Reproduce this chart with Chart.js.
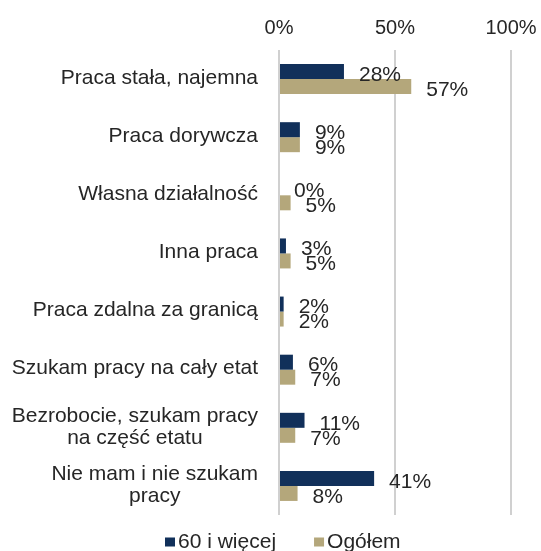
<!DOCTYPE html>
<html><head><meta charset="utf-8">
<script src="https://cdn.jsdelivr.net/npm/chart.js@4/dist/chart.umd.min.js"></script>
<style>html,body{margin:0;padding:0;background:#fff}canvas{display:block}</style>
</head><body>
<canvas id="c" width="541" height="551"></canvas>
<script>
const categories = [
  ["Praca stała, najemna"],
  ["Praca dorywcza"],
  ["Własna działalność"],
  ["Inna praca"],
  ["Praca zdalna za granicą"],
  ["Szukam pracy na cały etat"],
  ["Bezrobocie, szukam pracy", "na część etatu"],
  ["Nie mam i nie szukam", "pracy"]
];
const seriesNames = ["60 i więcej", "Ogółem"];
const values60 = [28, 9, 0, 3, 2, 6, 11, 41];
const valuesAll = [57, 9, 5, 5, 2, 7, 7, 8];
const xTicks = [0, 50, 100];

const NAVY = '#11305a';
const TAN = '#b4a77b';
const TEXT = '#262626';
const FONT = '"Liberation Sans", Arial, sans-serif';

const customText = {
  id: 'customText',
  afterDatasetsDraw(chart) {
    const ctx = chart.ctx;
    ctx.save();
    // data labels
    ctx.font = '21px ' + FONT;
    ctx.fillStyle = TEXT;
    ctx.textAlign = 'left';
    ctx.textBaseline = 'middle';
    chart.data.datasets.forEach((ds, di) => {
      const meta = chart.getDatasetMeta(di);
      meta.data.forEach((bar, i) => {
        ctx.fillText(ds.data[i] + '%', bar.x + 15, bar.y + 3.5);
      });
    });
    // category labels
    const yScale = chart.scales.y;
    const rightX = 258;
    categories.forEach((lines, i) => {
      const cy = yScale.getPixelForValue(i);
      let w = 0;
      lines.forEach(l => { w = Math.max(w, ctx.measureText(l).width); });
      const cx = rightX - w / 2;
      ctx.textAlign = 'center';
      lines.forEach((l, j) => {
        ctx.fillText(l, cx, cy - 1 + (j - (lines.length - 1) / 2) * 22);
      });
    });
    // legend
    let x = 165;
    const ly = 542;
    chart.data.datasets.forEach((ds, di) => {
      ctx.fillStyle = ds.backgroundColor;
      ctx.fillRect(x, ly - 4.5, 10, 9);
      ctx.fillStyle = TEXT;
      ctx.textAlign = 'left';
      ctx.fillText(ds.label, x + 13, ly);
      x += 13 + ctx.measureText(ds.label).width + 38;
    });
    ctx.restore();
  }
};

new Chart(document.getElementById('c'), {
  type: 'bar',
  data: {
    labels: categories,
    datasets: [
      { label: seriesNames[0], data: values60, backgroundColor: NAVY },
      { label: seriesNames[1], data: valuesAll, backgroundColor: TAN }
    ]
  },
  options: {
    indexAxis: 'y',
    responsive: false,
    animation: false,
    devicePixelRatio: 1,
    layout: { padding: { left: 0, right: 30, top: 0, bottom: 36 } },
    datasets: { bar: { categoryPercentage: 0.516, barPercentage: 1.0 } },
    plugins: { legend: { display: false }, tooltip: { enabled: false } },
    scales: {
      x: {
        position: 'top',
        min: 0, max: 100,
        afterBuildTicks: s => { s.ticks = xTicks.map(v => ({ value: v })); },
        afterFit: s => { s.height = 50; s.paddingLeft = 0; s.paddingRight = 0; },
        ticks: { callback: v => v + '%', font: { size: 20, family: FONT }, color: TEXT, padding: 10 },
        grid: { color: '#d0d0d0', lineWidth: 2, drawTicks: false },
        border: { display: false }
      },
      y: {
        afterFit: s => { s.width = 279; },
        ticks: { display: false },
        grid: { display: false },
        border: { display: false }
      }
    }
  },
  plugins: [customText]
});
</script>
</body></html>
